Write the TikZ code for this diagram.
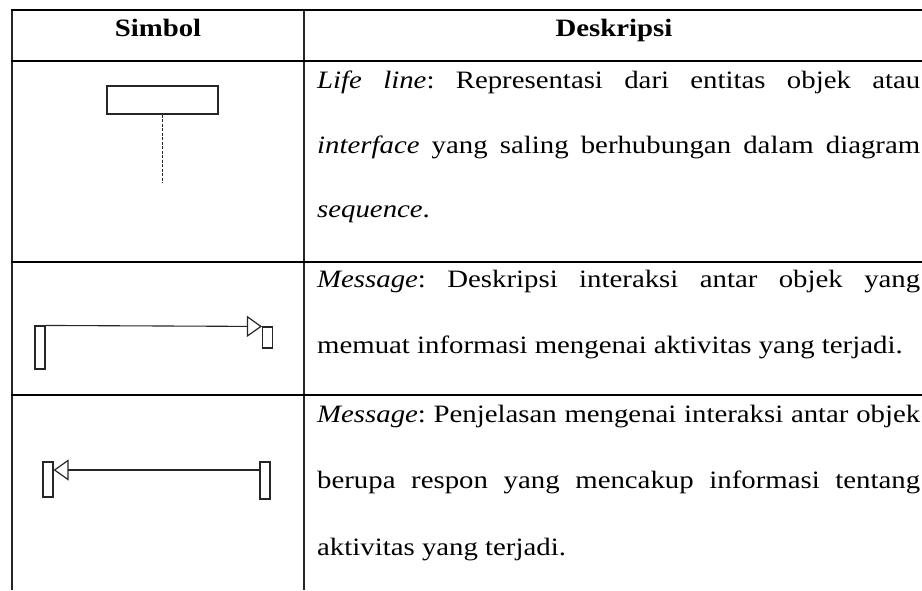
\documentclass[tikz,border=0pt]{standalone}
\usepackage{fontspec}
\setmainfont[FakeStretch=1.152]{Liberation Serif}
\usetikzlibrary{arrows.meta}
\frenchspacing
\newcommand{\jline}[1]{\makebox[603pt][s]{#1}}
\begin{document}
\begin{tikzpicture}[x=1pt,y=-1pt,
  hrule/.style={line width=2.4pt, black},
  vrule/.style={line width=1.6pt, black!85},
  sym/.style={line width=1.1pt, black!85},
  bar/.style={sym, draw, rectangle, inner sep=0pt, minimum width=10pt},
  txt/.style={anchor=base west, inner sep=0pt, font=\fontsize{25}{30}\selectfont},
  head/.style={anchor=base, inner sep=0pt, font=\fontsize{25}{30}\selectfont\bfseries},
  msgtip/.style={-{Triangle[open, length=15pt, width=21pt, line width=1.2pt]}}
]
\useasboundingbox (0,0) rectangle (922,590);
\clip (0,0) rectangle (922,590);

% table grid
\draw[vrule] (12,10) -- (12,590);
\draw[vrule] (304,10) -- (304,590);
\draw[hrule] (11,10) -- (925,10);
\draw[hrule] (11,61) -- (925,61);
\draw[hrule] (11,262) -- (925,262);
\draw[hrule] (11,395) -- (925,395);

% header
\node[head] (hsimbol) at (158,36) {Simbol};
\node[head] (hdesk) at (614,36) {Deskripsi};

% life line symbol
\node[sym, draw, rectangle, inner sep=0pt, minimum width=111pt, minimum height=28pt] (ll) at (162.5,100) {};
\coordinate (llend) at (162.5,183);
\draw[sym, line width=1.4pt, dash pattern=on 3pt off 1.5pt] (ll.south) -- (llend);

% message symbol
\node[bar, minimum height=43pt] (m1a) at (40,347.5) {};
\node[bar, minimum height=21pt] (m1b) at (267.5,337.5) {};
\draw[sym, msgtip] (m1a.north east) -- (m1b.north west);

% reply message symbol
\node[bar, minimum height=35pt] (m2a) at (48,479.5) {};
\node[bar, minimum height=37pt] (m2b) at (265,480.5) {};
\draw[sym, msgtip] (m2b.west |- 0,470) -- (m2a.east |- 0,470);

% descriptions
\node[txt] (d1a) at (317,88) {\jline{\textit{Life line}: Representasi dari entitas objek atau}};
\node[txt] (d1b) at (317,153) {\jline{\textit{interface} yang saling berhubungan dalam diagram}};
\node[txt] (d1c) at (317,217) {\textit{sequence}.};

\node[txt] (d2a) at (317,287) {\jline{\textit{Message}: Deskripsi interaksi antar objek yang}};
\node[txt] (d2b) at (317,353) {memuat informasi mengenai aktivitas yang terjadi.};

\node[txt] (d3a) at (317,422) {\jline{\textit{Message}: Penjelasan mengenai interaksi antar objek}};
\node[txt] (d3b) at (317,488) {\jline{berupa respon yang mencakup informasi tentang}};
\node[txt] (d3c) at (317,555) {aktivitas yang terjadi.};
\end{tikzpicture}
\end{document}
